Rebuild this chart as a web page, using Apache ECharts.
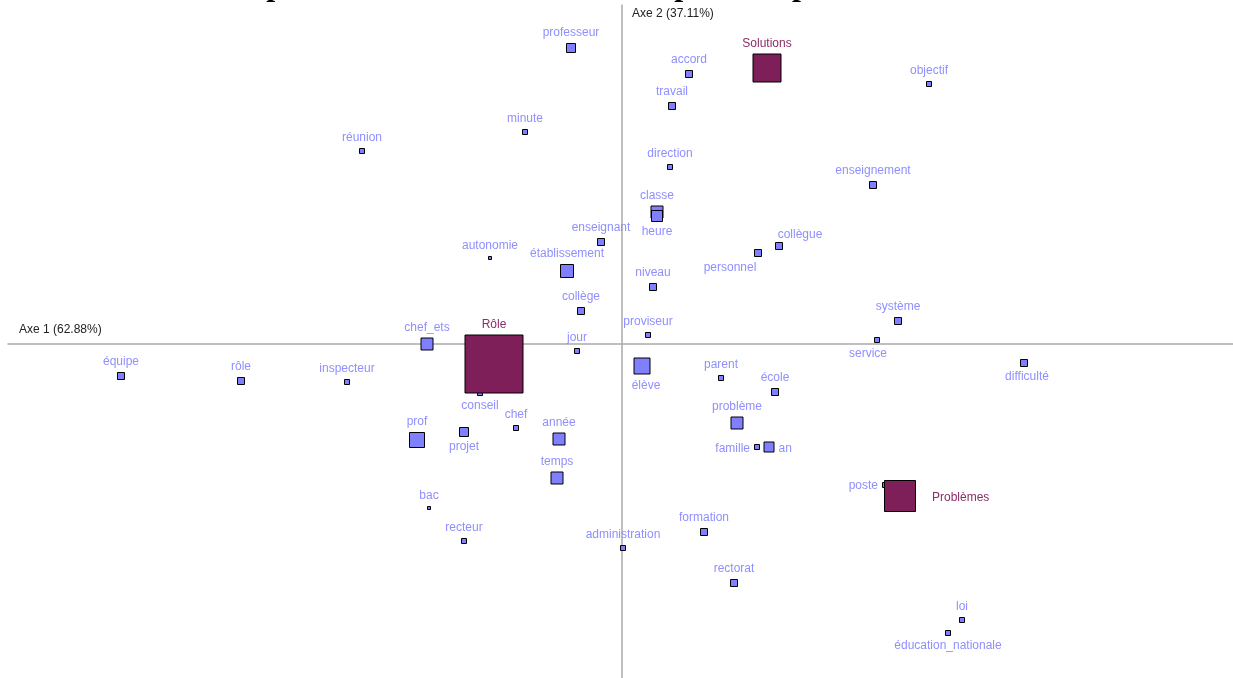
<!DOCTYPE html>
<html>
<head>
<meta charset="utf-8">
<script src="https://cdn.jsdelivr.net/npm/echarts@6/dist/echarts.min.js"></script>
<style>
  html, body { margin: 0; padding: 0; background: #fff; }
  #chart { width: 1233px; height: 678px; }
</style>
</head>
<body>
<div id="chart"></div>
<script>
// mots (colonnes de l'AFC)
var words = ['professeur', 'accord', 'travail', 'objectif', 'minute', 'réunion', 'direction', 'enseignement',
    'classe', 'heure', 'enseignant', 'autonomie', 'établissement', 'collègue', 'personnel', 'niveau', 'collège',
    'système', 'proviseur', 'jour', 'chef_ets', 'conseil', 'équipe', 'rôle', 'inspecteur', 'service', 'difficulté',
    'élève', 'parent', 'école', 'problème', 'famille', 'an', 'prof', 'projet', 'chef', 'année', 'temps', 'bac',
    'recteur', 'administration', 'formation', 'rectorat', 'poste', 'loi', 'éducation_nationale'];
var wordAxe1 = [-0.51, 0.67, 0.50, 3.07, -0.97, -2.60, 0.48, 2.51,
    0.35, 0.35, -0.21, -1.32, -0.55, 1.57, 1.36, 0.31, -0.41,
    2.76, 0.26, -0.45, -1.95, -1.42, -5.01, -3.81, -2.75, 2.55, 4.02,
    0.20, 0.99, 1.53, 1.15, 1.35, 1.47, -2.05, -1.58, -1.06, -0.63, -0.65, -1.93,
    -1.58, 0.01, 0.82, 1.12, 2.63, 3.40, 3.26];
var wordAxe2 = [2.96, 2.70, 2.38, 2.60, 2.12, 1.93, 1.77, 1.59,
    1.32, 1.28, 1.02, 0.86, 0.73, 0.98, 0.91, 0.57, 0.33,
    0.23, 0.09, -0.07, 0.00, -0.49, -0.32, -0.37, -0.38, 0.04, -0.19,
    -0.22, -0.34, -0.48, -0.79, -1.03, -1.03, -0.96, -0.88, -0.84, -0.95, -1.34, -1.64,
    -1.97, -2.04, -1.88, -2.39, -1.41, -2.76, -2.89];
// poids (taille du carré)
var wordWeight = [9, 7, 7, 5, 5, 5, 5, 7,
    12, 11, 7, 3, 13, 7, 7, 7, 7,
    7, 5, 5, 12, 5, 7, 7, 5, 5, 7,
    16, 5, 7, 12, 5, 10, 15, 9, 5, 12, 12, 3,
    5, 5, 7, 7, 5, 5, 5];

// modalités (lignes)
var groups = ['Rôle', 'Solutions', 'Problèmes'];
var groupAxe1 = [-1.28, 1.45, 2.78];
var groupAxe2 = [-0.20, 2.76, -1.52];
var groupWeight = [58, 28, 31];

var axisNames = ['Axe 1 (62.88%)', 'Axe 2 (37.11%)'];

// placement des étiquettes
var labelPlace = {
    'heure': 'bottom', 'personnel': 'bottom', 'conseil': 'bottom', 'service': 'bottom', 'difficulté': 'bottom',
    'élève': 'bottom', 'projet': 'bottom', 'éducation_nationale': 'bottom',
    'famille': 'left', 'poste': 'left', 'an': 'right', 'Problèmes': 'right'
};
var labelShift = {
    'collègue': [21, 3], 'personnel': [-28, 1], 'service': [-9, 1], 'élève': [4, 1],
    'difficulté': [3, 0], 'Problèmes': [12, 2], 'famille': [0, 2], 'an': [0, 2], 'poste': [0, 1]
};

function buildPoints(names, xs, ys, sizes) {
    return names.map(function (n, i) {
        var item = { name: n, value: [xs[i], ys[i]], symbolSize: sizes[i] };
        item.label = { position: labelPlace[n] || 'top' };
        if (labelShift[n]) item.label.offset = labelShift[n];
        return item;
    });
}

var chart = echarts.init(document.getElementById('chart'));

var option = {
    animation: false,
    title: {
        text: 'Représentation des mots dans le premier plan factoriel',
        left: 229,
        top: -29,
        padding: 0,
        textStyle: { fontFamily: 'Liberation Serif', fontWeight: 'bold', fontSize: 32, color: '#000', lineHeight: 32 }
    },
    grid: { left: 8, right: 0, top: 5, bottom: 0 },
    xAxis: {
        type: 'value', min: -6.14, max: 6.11,
        axisLine: { onZero: true, lineStyle: { color: '#aaaaaa', width: 1.5 } },
        axisTick: { show: false }, axisLabel: { show: false }, splitLine: { show: false }
    },
    yAxis: {
        type: 'value', min: -3.34, max: 3.39,
        axisLine: { onZero: true, lineStyle: { color: '#aaaaaa', width: 1.5 } },
        axisTick: { show: false }, axisLabel: { show: false }, splitLine: { show: false }
    },
    graphic: [
        { type: 'text', left: 19, top: 324, style: { text: axisNames[0], fill: '#222', font: '12px "Liberation Sans", Arial' } },
        { type: 'text', left: 632, top: 8, style: { text: axisNames[1], fill: '#222', font: '12px "Liberation Sans", Arial' } }
    ],
    series: [
        {
            type: 'scatter',
            symbol: 'rect',
            data: buildPoints(words, wordAxe1, wordAxe2, wordWeight),
            itemStyle: { color: '#8080ff', borderColor: '#000', borderWidth: 1, opacity: 1 },
            label: {
                show: true, formatter: '{b}', distance: 4,
                color: '#8f8fff', fontFamily: 'Liberation Sans', fontSize: 12
            },
            emphasis: { disabled: true },
            z: 2
        },
        {
            type: 'scatter',
            symbol: 'rect',
            data: buildPoints(groups, groupAxe1, groupAxe2, groupWeight),
            itemStyle: { color: '#7f1f5a', borderColor: '#000', borderWidth: 1, opacity: 1 },
            label: {
                show: true, formatter: '{b}', distance: 4,
                color: '#8a2d68', fontFamily: 'Liberation Sans', fontSize: 12
            },
            emphasis: { disabled: true },
            z: 3
        }
    ]
};

option && chart.setOption(option);
window.addEventListener('resize', function () {
    chart.resize();
});
</script>
</body>
</html>
